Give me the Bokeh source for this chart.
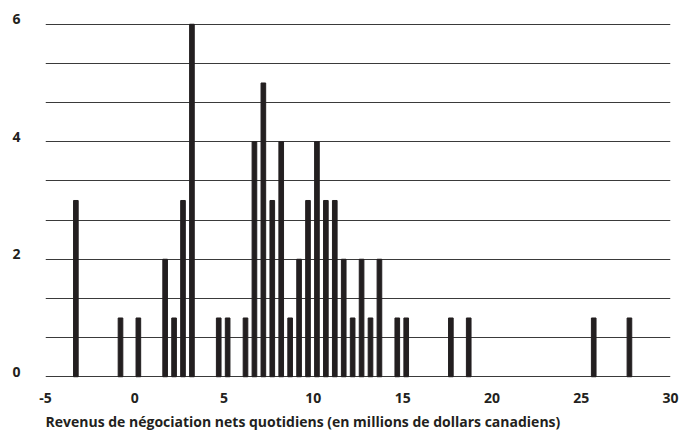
from bokeh.plotting import figure
from bokeh.models import Range1d, FixedTicker, Title, LinearAxis
from bokeh.embed import file_html
from bokeh.resources import INLINE

# Bin centres (millions CAD) and number of days
bin_centers = [-3.3, -0.8, 0.2, 1.7, 2.2, 2.7, 3.2, 4.7, 5.2, 6.2, 6.7, 7.2, 7.7, 8.2,
               8.7, 9.2, 9.7, 10.2, 10.7, 11.2, 11.7, 12.2, 12.7, 13.2, 13.7, 14.7,
               15.2, 17.7, 18.7, 25.7, 27.7]
day_counts = [3, 1, 1, 2, 1, 3, 6, 1, 1, 1, 4, 5, 3, 4,
              1, 2, 3, 4, 3, 3, 2, 1, 2, 1, 2, 1,
              1, 1, 1, 1, 1]
x_ticks = [-5, 0, 5, 10, 15, 20, 25, 30]
y_label_ticks = [0, 2, 4, 6]
grid_step = 2 / 3
y_grid_ticks = [i * grid_step for i in range(10)]
x_title = "Revenus de négociation nets quotidiens (en millions de dollars canadiens)"

FONT = "Open Sans"
TXT = "#231f20"

Y0, Y1 = -0.03, 6.2
LABEL_SHIFT = 0.085  # labels sit slightly above their gridline

p = figure(width=680, height=434, output_backend="svg", toolbar_location=None,
           x_range=Range1d(-5, 30), y_range=Range1d(Y0, Y1),
           y_axis_location=None,
           min_border_left=45, min_border_right=10, min_border_top=12,
           min_border_bottom=54)
p.outline_line_color = None
p.background_fill_color = "white"
p.extra_y_ranges = {"labels": Range1d(Y0 - LABEL_SHIFT, Y1 - LABEL_SHIFT)}

p.vbar(x=bin_centers, top=day_counts, width=0.26, color="#231f20")

# x axis
p.xaxis.ticker = FixedTicker(ticks=x_ticks)
p.xaxis.major_label_overrides = {v: str(v) for v in x_ticks}
p.xaxis.axis_line_color = None
p.xaxis.major_tick_line_color = None
p.xaxis.minor_tick_line_color = None
p.xaxis.major_label_standoff = 8
p.xaxis.major_label_text_font = FONT
p.xaxis.major_label_text_font_size = "14px"
p.xaxis.major_label_text_font_style = "bold"
p.xaxis.major_label_text_color = TXT

# y axis (labels only)
yax = LinearAxis(y_range_name="labels", ticker=FixedTicker(ticks=y_label_ticks),
                 axis_line_color=None, major_tick_line_color=None,
                 minor_tick_line_color=None, major_label_standoff=19,
                 major_label_text_font=FONT, major_label_text_font_size="14px",
                 major_label_text_font_style="bold", major_label_text_color=TXT)
p.add_layout(yax, "left")

p.xgrid.grid_line_color = None
p.ygrid.ticker = FixedTicker(ticks=y_grid_ticks)
p.ygrid.grid_line_color = "#3a3a3a"
p.ygrid.grid_line_width = 1.2

p.add_layout(Title(text=x_title, align="left", text_font=FONT, text_font_size="14px",
                   text_font_style="bold", text_color=TXT, standoff=8), "below")

open("out.html", "w").write(file_html(p, INLINE))
